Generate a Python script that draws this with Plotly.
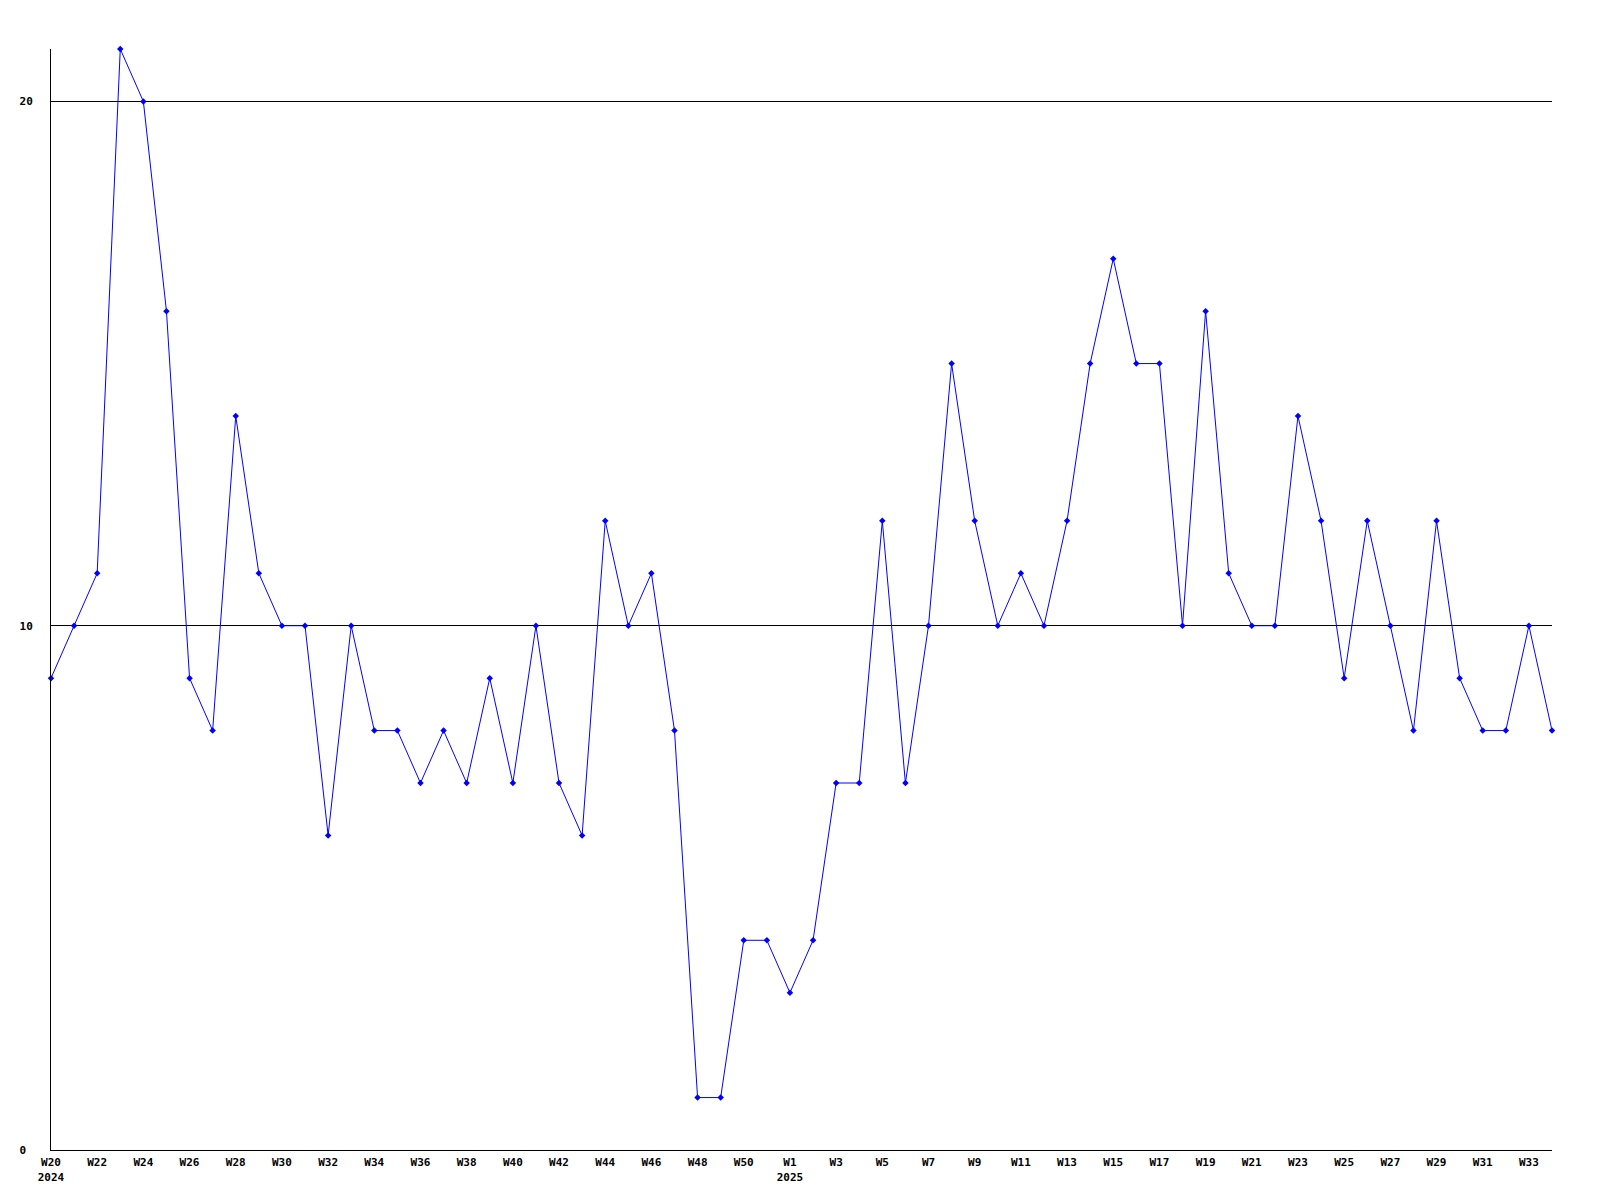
import plotly.graph_objects as go

weeks_2024 = [f"W{w}" for w in range(20, 52)]
weeks_2025 = [f"W{w}" for w in range(1, 35)]
weeks = [f"2024-{w}" for w in weeks_2024] + [f"2025-{w}" for w in weeks_2025]

values = [9, 10, 11, 21, 20, 16, 9, 8, 14, 11, 10, 10, 6, 10, 8, 8, 7, 8, 7, 9,
          7, 10, 7, 6, 12, 10, 11, 8, 1, 1, 4, 4,
          3, 4, 7, 7, 12, 7, 10, 15, 12, 10, 11, 10, 12, 15, 17, 15, 15, 10, 16, 11,
          10, 10, 14, 12, 9, 12, 10, 8, 12, 9, 8, 8, 10, 8]

tick_weeks = weeks[::2]
tick_text = []
for i, w in enumerate(tick_weeks):
    year, lab = w.split("-")
    if i == 0 or lab == "W1":
        tick_text.append(f"{lab}<br>{year}")
    else:
        tick_text.append(lab)

y_ticks = [0, 10, 20]
y_text = ["0\u00a0", "10", "20"]

font = dict(family="DejaVu Sans Mono", size=11, color="black")

fig = go.Figure()
fig.add_trace(go.Scatter(
    x=weeks, y=values, mode="lines+markers",
    line=dict(color="#0000ff", width=1),
    marker=dict(symbol="diamond", size=5, color="#0000ff"),
    showlegend=False, cliponaxis=False,
))
fig.update_layout(
    width=1600, height=1200,
    margin=dict(l=43, r=56, t=41, b=58),
    paper_bgcolor="white", plot_bgcolor="white",
    font=font,
    xaxis=dict(type="category", range=[0, len(weeks) - 1], automargin=False,
               tickmode="array", tickvals=tick_weeks, ticktext=tick_text,
               showgrid=False, zeroline=False, showline=True, linecolor="black",
               linewidth=1, ticks="", ticklabelstandoff=2,
               tickfont=dict(family="DejaVu Sans Mono", size=11, weight="bold")),
    yaxis=dict(range=[0, 21], tickmode="array", tickvals=y_ticks, ticktext=y_text,
               automargin=False,
               showgrid=True, gridcolor="black", gridwidth=1, zeroline=False,
               showline=True, linecolor="black", linewidth=1, ticks="",
               ticklabelstandoff=15,
               tickfont=dict(family="DejaVu Sans Mono", size=11, weight="bold")),
)
fig.write_html("out.html")
